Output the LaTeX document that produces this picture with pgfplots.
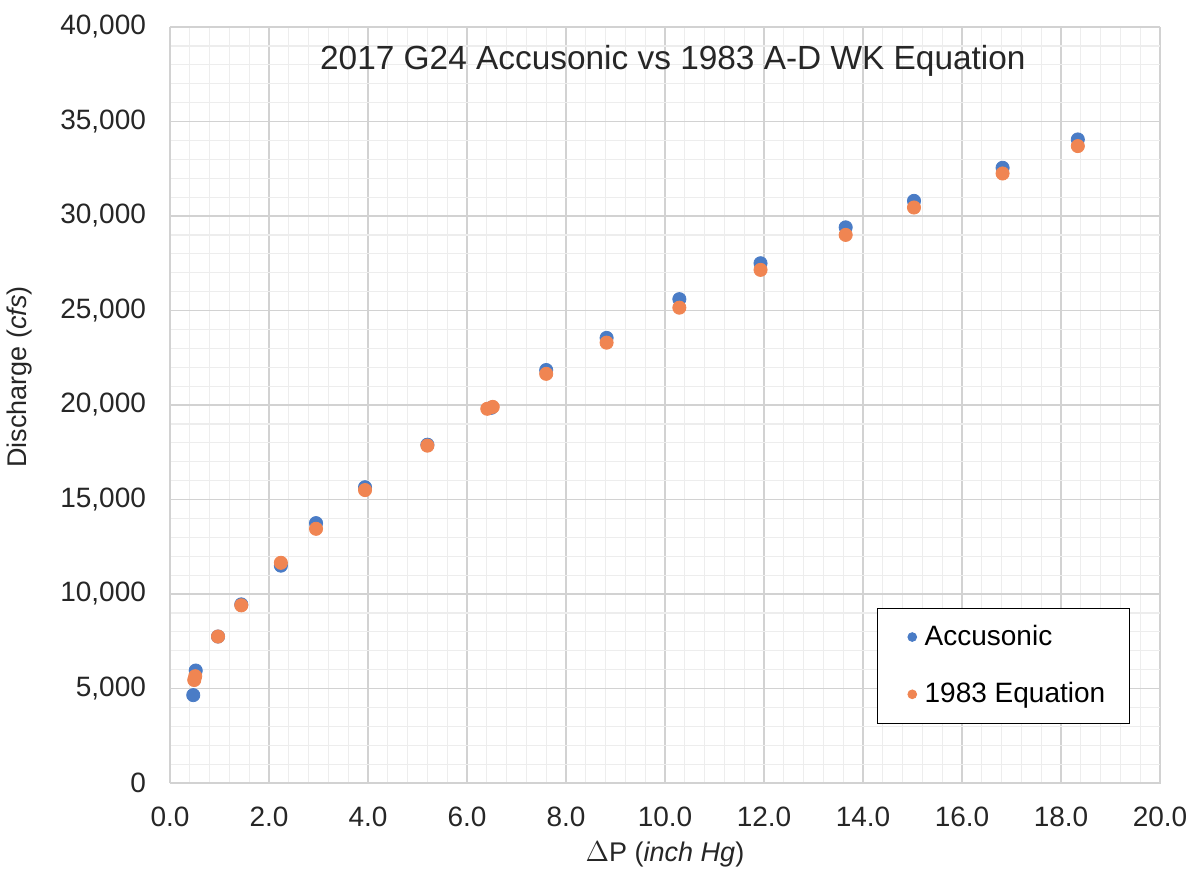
\documentclass[border=0pt]{standalone}
\usepackage{pgfplots}
\pgfplotsset{compat=1.18}
\usepackage{fontspec}
\setmainfont{Liberation Sans}

\definecolor{accblue}{HTML}{4A7CC6}
\definecolor{eqorange}{HTML}{F08552}
\definecolor{majgrid}{HTML}{D2D2D2}
\definecolor{mingrid}{HTML}{EDEDED}

\begin{document}
\begin{tikzpicture}
\begin{axis}[
    scale only axis,
    width=495pt, height=378pt,
    xmin=0, xmax=20, ymin=0, ymax=40000,
    xtick distance=2, ytick distance=5000,
    minor x tick num=4, minor y tick num=4,
    grid=both,
    major grid style={majgrid, line width=0.6pt},
    minor grid style={mingrid, line width=0.6pt},
    axis line style={majgrid},
    major tick length=0pt, minor tick length=0pt,
    scaled y ticks=false,
    /pgf/number format/assume math mode=true,
    tick label style={font=\fontsize{14}{16}\selectfont, text=black!85},
    yticklabel style={/pgf/number format/.cd, fixed, 1000 sep={,}},
    xticklabel style={/pgf/number format/.cd, fixed, fixed zerofill, precision=1},
    xticklabel shift=8.5pt, yticklabel shift=8.5pt,
    xlabel={$\Delta$P (\textit{inch Hg})},
    ylabel={Discharge (\textit{cfs})},
    label style={font=\fontsize{13.5}{16}\selectfont, text=black!85},
    xlabel style={at={(axis description cs:0.5,-0.094)}, anchor=center},
    ylabel style={at={(axis description cs:-0.1525,0.537)}, anchor=center, rotate=0},
    legend style={at={(axis description cs:0.714,0.2315)}, anchor=north west,
        draw=black, fill=white, font=\fontsize{14}{16}\selectfont,
        inner xsep=10pt, inner ysep=6.5pt, row sep=13pt},
    legend cell align=left,
    legend image code/.code={
        \path[draw=none, fill=none] (-7.5pt,0pt) rectangle (4.2pt,0.1pt);
        \draw[#1, mark size=2.2pt] plot coordinates {(0pt,0pt)};},
    clip=false,
]
\node[font=\fontsize{16.7}{19}\selectfont, text=black!85] at (axis description cs:0.508,0.955) {2017 G24 Accusonic vs 1983 A-D WK Equation};

\addplot[only marks, mark=*, mark size=3.3pt, color=accblue] coordinates {
(0.47,4650)(0.52,5950)(0.97,7750)(1.44,9450)(2.24,11500)(2.95,13750)(3.94,15650)
(5.20,17900)(6.49,19850)(7.60,21850)(8.82,23550)(10.29,25600)(11.93,27500)
(13.65,29400)(15.03,30800)(16.82,32550)(18.34,34050)
};
\addlegendentry{Accusonic}

\addplot[only marks, mark=*, mark size=3.3pt, color=eqorange] coordinates {
(0.49,5450)(0.51,5650)(0.97,7750)(1.44,9400)(2.24,11650)(2.95,13450)(3.94,15500)
(5.20,17850)(6.41,19800)(6.52,19900)(7.60,21650)(8.82,23300)(10.29,25150)
(11.93,27150)(13.65,29000)(15.03,30450)(16.82,32250)(18.34,33700)
};
\addlegendentry{1983 Equation}
\end{axis}
\pgfresetboundingbox
\path[use as bounding box] (-85pt,-43pt) rectangle (510pt,391.5pt);
\end{tikzpicture}
\end{document}
